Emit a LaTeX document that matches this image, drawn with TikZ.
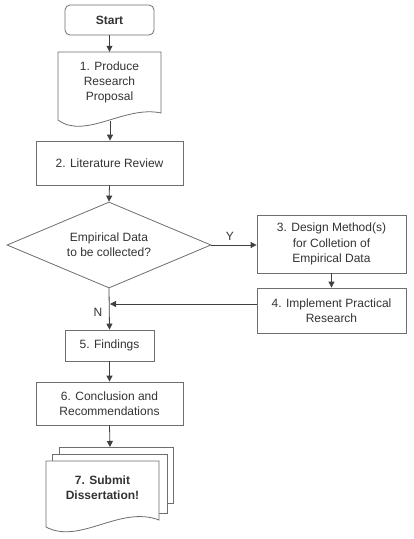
\documentclass[tikz,border=0pt]{standalone}
\usepackage{fontspec}
\setmainfont{Liberation Sans}
\usetikzlibrary{arrows.meta,shapes.geometric,calc}
\definecolor{boxc}{HTML}{6E6E6E}
\definecolor{arrc}{HTML}{404040}
\definecolor{txtc}{HTML}{333333}
\begin{document}
\begin{tikzpicture}[x=1pt,y=-1pt,
  every node/.style={font=\fontsize{12}{15}\selectfont, text=txtc, align=center, inner sep=0pt},
  boxnode/.style={draw=boxc, line width=0.8pt, fill=white, rectangle},
  shapeline/.style={draw=boxc, line width=0.8pt, fill=white},
  arr/.style={draw=arrc, line width=0.8pt, -{Triangle[width=6pt,length=6pt]}},
  plain/.style={draw=arrc, line width=0.8pt},
  lbl/.style={font=\fontsize{12}{14}\selectfont, text=txtc}]
\useasboundingbox (0,0) rectangle (413,539);

% Start
\node[boxnode, rounded corners=5pt, minimum width=89pt, minimum height=30pt, font=\fontsize{12}{15}\selectfont\bfseries] (start) at (109.5,20) {Start};

% 1. document
\path[shapeline] (58,52) -- (161,52) -- (161,113) .. controls (125,105) and (85,140) .. (58,120) -- cycle;
\node[minimum width=103pt, minimum height=61pt] (d1) at (109.5,82.5) {1. Produce\\Research\\Proposal};
\coordinate (d1b) at (110,121);

% 2.
\node[boxnode, minimum width=147pt, minimum height=44pt] (lit) at (109.5,163) {2. Literature Review};

% decision
\node[shape=diamond, draw=boxc, line width=0.8pt, fill=white, aspect=2.37, minimum width=204pt, minimum height=86pt] (dec) at (109,245) {Empirical Data\\to be collected?};

% 3. and 4.
\node[boxnode, minimum width=149pt, minimum height=58pt, font=\fontsize{12}{15.5}\selectfont] (b3) at (331.5,244) {3. Design Method(s)\\for Colletion of\\Empirical Data};
\node[boxnode, minimum width=149pt, minimum height=45pt] (b4) at (331.5,310.5) {4. Implement Practical\\Research};
\coordinate (m4) at (257,304);
\coordinate (jn) at (110,304);

% 5. and 6.
\node[boxnode, minimum width=89pt, minimum height=31pt] (find) at (109.5,345.5) {5. Findings};
\node[boxnode, minimum width=147pt, minimum height=43pt] (b6) at (109.5,403.5) {6. Conclusion and\\Recommendations};

% 7. multi-document
\path[shapeline] (59,447) rectangle (173,503);
\path[shapeline] (52,454) rectangle (167,513);
\path[shapeline] (46,461) -- (159,461) -- (159,520) .. controls (120,505) and (80,545) .. (46,527) -- cycle;
\node[minimum width=113pt, minimum height=52pt, font=\fontsize{12}{15}\selectfont\bfseries] (md) at (102.5,487.5) {7. Submit\\Dissertation!};
\coordinate (mdtop) at (110,447);

% connectors
\draw[arr] (start.south) -- (d1.north);
\draw[arr] (d1b) -- (d1b |- lit.north);
\draw[arr] (lit.south) -- (dec.north);
\draw[arr] (dec.east) -- (dec.east -| b3.west);
\draw[arr] (b3.south) -- (b4.north);
\draw[arr] (m4) -- (jn);
\draw[arr] (dec.south) -- (find.north);
\draw[arr] (find.south) -- (b6.north);
\draw[arr] (b6.south) -- (mdtop);

% labels
\node[lbl] (ylab) at (230,236) {Y};
\node[lbl] (nlab) at (98,312) {N};
\end{tikzpicture}
\end{document}
